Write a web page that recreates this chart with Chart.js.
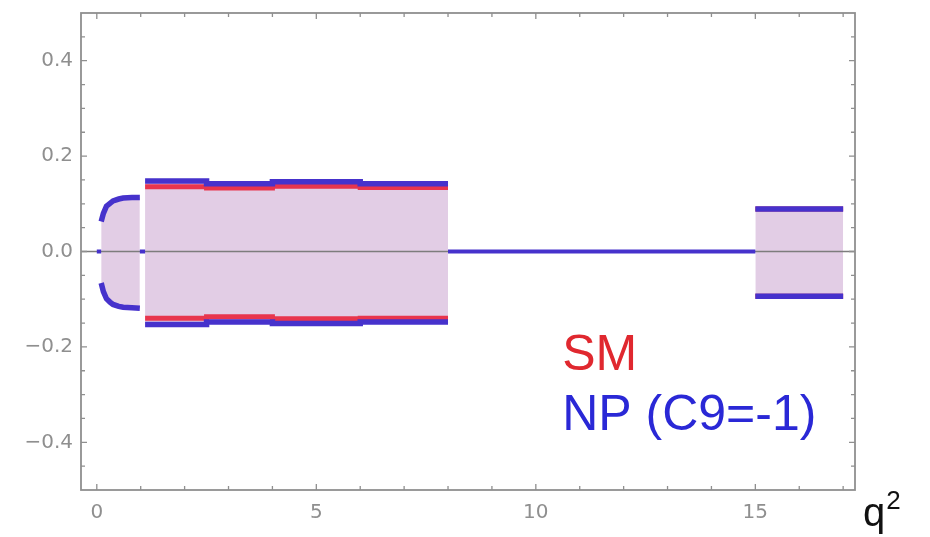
<!DOCTYPE html>
<html>
<head>
<meta charset="utf-8">
<title>q2 bins</title>
<script src="https://cdn.jsdelivr.net/npm/chart.js@4.4.1/dist/chart.umd.min.js"></script>
<style>
  html, body { margin: 0; padding: 0; background: #fff; }
  canvas { display: block; }
</style>
</head>
<body>
<canvas id="binChart" width="930" height="537"></canvas>
<script>
// low-q2 curve (0.1 < q2 < 0.98)
const lowQ2 = [0.1, 0.15, 0.22, 0.3, 0.37, 0.5, 0.6, 0.8, 0.98];
const npLowUp = [0.063, 0.080, 0.095, 0.101, 0.106, 0.110, 0.112, 0.113, 0.113];
const npLowLo = [-0.066, -0.084, -0.099, -0.106, -0.111, -0.115, -0.117, -0.118, -0.119];

// binned region 1.1 - 8
const binEdges = [1.1, 2.5, 4, 6, 8];
const smUp = [0.136, 0.133, 0.137, 0.134];
const smLo = [-0.140, -0.137, -0.141, -0.140];
const npUp = [0.148, 0.142, 0.146, 0.142];
const npLo = [-0.153, -0.148, -0.151, -0.148];

// high-q2 bin 15 - 17
const highEdges = [15, 17];
const smHighUp = [0.089];
const smHighLo = [-0.094];
const npHighUp = [0.089];
const npHighLo = [-0.094];

// stretches where the prediction sits at zero
const zeroStretches = [[0, 0.1], [0.98, 1.1], [8, 15]];

// axis ticks
const xTicks = [0, 5, 10, 15];
const xMinor = [1, 2, 3, 4, 6, 7, 8, 9, 11, 12, 13, 14, 16, 17];
const yTicks = [-0.4, -0.2, 0.0, 0.2, 0.4];
const yMinor = [-0.45, -0.35, -0.3, -0.25, -0.15, -0.1, -0.05, 0.05, 0.1, 0.15, 0.25, 0.3, 0.35, 0.45];

const legendItems = [
  { text: 'SM', color: '#e0282f', x: 10.6, y: -0.248 },
  { text: 'NP (C9=-1)', color: '#2a28d6', x: 10.6, y: -0.374 }
];

const RED = '#e8354d';
const BLUE = '#4632cc';
const BAND = '#e2cde5';

function stepPoints(edges, values) {
  const pts = [];
  for (let i = 0; i < values.length; i++) {
    pts.push({ x: edges[i], y: values[i] });
    pts.push({ x: edges[i + 1], y: values[i] });
  }
  return pts;
}

function curvePoints(xs, ys) {
  return xs.map((x, i) => ({ x: x, y: ys[i] }));
}

const gap = { x: NaN, y: null };

function bandPair(upper, lower) {
  return [
    { data: upper, fill: '+1', backgroundColor: BAND, borderWidth: 0, pointRadius: 0, order: 20 },
    { data: lower, fill: false, borderWidth: 0, pointRadius: 0, order: 20 }
  ];
}

const datasets = [];
datasets.push(...bandPair(curvePoints(lowQ2, npLowUp), curvePoints(lowQ2, npLowLo)));
datasets.push(...bandPair(stepPoints(binEdges, npUp), stepPoints(binEdges, npLo)));
datasets.push(...bandPair(stepPoints(highEdges, npHighUp), stepPoints(highEdges, npHighLo)));

// gray zero line across the frame
datasets.push({
  data: [{ x: -1, y: 0 }, { x: 18, y: 0 }],
  borderColor: '#7d7d7d', borderWidth: 1.5, pointRadius: 0, order: 10
});

// SM edges
[smUp, smLo].forEach(function(vals, k) {
  const hi = k === 0 ? smHighUp : smHighLo;
  datasets.push({
    data: [...stepPoints(binEdges, vals), gap, ...stepPoints(highEdges, hi)],
    borderColor: RED, borderWidth: 5, pointRadius: 0, order: 4
  });
});

// NP edges
[[npLowUp, npUp, npHighUp], [npLowLo, npLo, npHighLo]].forEach(function(set) {
  datasets.push({
    data: [...curvePoints(lowQ2, set[0]), gap, ...stepPoints(binEdges, set[1]), gap, ...stepPoints(highEdges, set[2])],
    borderColor: BLUE, borderWidth: 5.5, pointRadius: 0, order: 3
  });
});

// NP at zero outside the bins
const zeroData = [];
zeroStretches.forEach(function(s, i) {
  if (i > 0) zeroData.push(gap);
  zeroData.push({ x: s[0], y: 0 }, { x: s[1], y: 0 });
});
datasets.push({ data: zeroData, borderColor: BLUE, borderWidth: 4, pointRadius: 0, order: 2 });

datasets.forEach(d => { d.tension = 0; d.spanGaps = false; d.borderCapStyle = 'butt'; });

const framePlugin = {
  id: 'frame',
  afterDraw(chart) {
    const ctx = chart.ctx;
    const a = chart.chartArea;
    const xs = chart.scales.x, ys = chart.scales.y;
    ctx.save();
    ctx.strokeStyle = '#8f8f8f';
    ctx.lineWidth = 1.8;
    ctx.strokeRect(a.left, a.top, a.right - a.left, a.bottom - a.top);
    ctx.lineWidth = 1.3;
    ctx.beginPath();
    function xTick(v, len) {
      const px = xs.getPixelForValue(v);
      ctx.moveTo(px, a.bottom); ctx.lineTo(px, a.bottom - len);
      ctx.moveTo(px, a.top); ctx.lineTo(px, a.top + len);
    }
    function yTick(v, len) {
      const py = ys.getPixelForValue(v);
      ctx.moveTo(a.left, py); ctx.lineTo(a.left + len, py);
      ctx.moveTo(a.right, py); ctx.lineTo(a.right - len, py);
    }
    xTicks.forEach(v => xTick(v, 6));
    xMinor.forEach(v => xTick(v, 4));
    yTicks.forEach(v => yTick(v, 6));
    yMinor.forEach(v => yTick(v, 4));
    ctx.stroke();

    // legend text
    ctx.font = '50px "Liberation Sans", Arial, sans-serif';
    ctx.textBaseline = 'alphabetic';
    ctx.textAlign = 'left';
    legendItems.forEach(function(item) {
      ctx.fillStyle = item.color;
      ctx.fillText(item.text, xs.getPixelForValue(item.x), ys.getPixelForValue(item.y));
    });

    // axis label q^2
    ctx.fillStyle = '#111';
    ctx.font = '40px "Liberation Sans", Arial, sans-serif';
    const qx = a.right + 8, qy = 526;
    ctx.fillText('q', qx, qy);
    const qw = ctx.measureText('q').width;
    ctx.font = '26px "Liberation Sans", Arial, sans-serif';
    ctx.fillText('2', qx + qw + 1, qy - 17);
    ctx.restore();
  }
};

const tickFont = { family: '"DejaVu Sans", sans-serif', size: 20 };

new Chart(document.getElementById('binChart'), {
  type: 'line',
  data: { datasets: datasets },
  options: {
    responsive: false,
    animation: false,
    events: [],
    layout: { padding: { left: 0, right: 75, top: 13, bottom: 0 } },
    plugins: {
      legend: { display: false },
      tooltip: { enabled: false },
      filler: { propagate: false }
    },
    scales: {
      x: {
        type: 'linear',
        min: -0.36,
        max: 17.27,
        afterBuildTicks: s => { s.ticks = xTicks.map(v => ({ value: v })); },
        afterFit: s => { s.height = 47; s.paddingLeft = 0; s.paddingRight = 0; },
        grid: { display: false, drawTicks: false },
        border: { display: false },
        ticks: { color: '#8f8f8f', font: tickFont, padding: 11, maxRotation: 0 }
      },
      y: {
        type: 'linear',
        min: -0.5,
        max: 0.5,
        afterBuildTicks: s => { s.ticks = yTicks.map(v => ({ value: v })); },
        afterFit: s => { s.width = 81; s.paddingTop = 0; s.paddingBottom = 0; },
        grid: { display: false, drawTicks: false },
        border: { display: false },
        ticks: {
          color: '#8f8f8f', font: tickFont, padding: 8,
          callback: v => (v < 0 ? '\u2212' : '') + Math.abs(v).toFixed(1)
        }
      }
    }
  },
  plugins: [framePlugin]
});
</script>
</body>
</html>
